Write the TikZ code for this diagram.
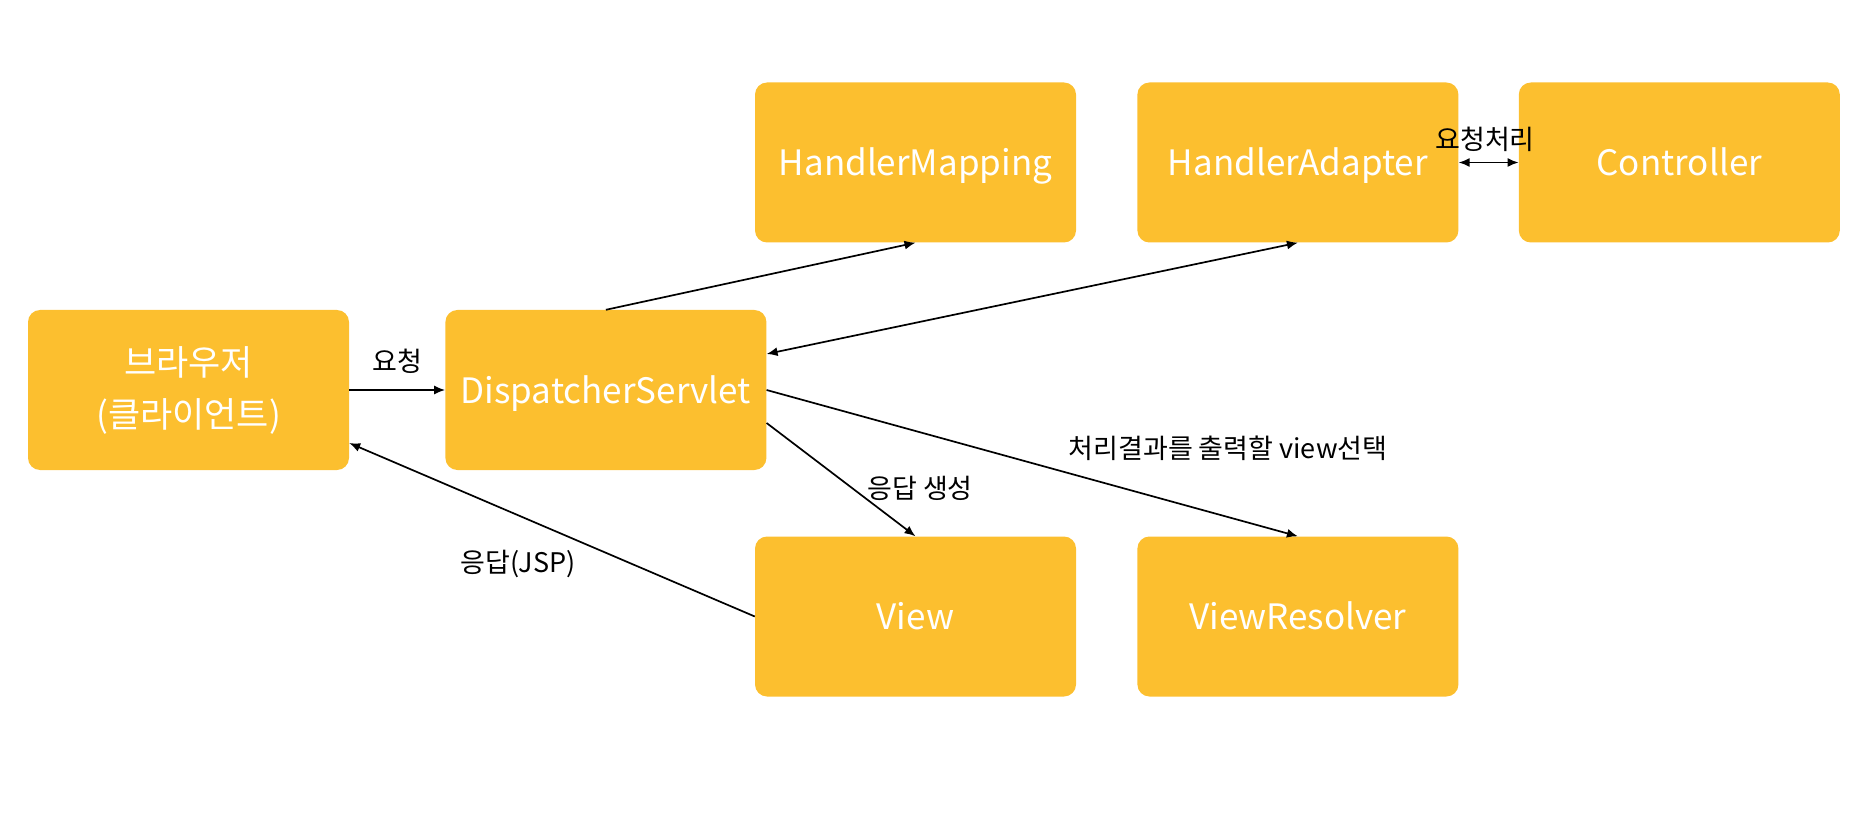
\documentclass[tikz,border=0pt]{standalone}
\usepackage{fontspec}
\setmainfont{Noto Sans CJK KR}
\usepackage{xcolor}
\usepackage{tikz}
\usetikzlibrary{arrows.meta,positioning}
\definecolor{DeepYellow}{HTML}{FCBF2F}
\definecolor{InkBlack}{HTML}{000000}
\tikzset{
  box/.style={fill=DeepYellow,draw=none,rounded corners=12pt,align=center,
              minimum width=321pt,minimum height=160pt,inner sep=0pt,
              text=white,font=\fontsize{35}{52}\selectfont},
  onebox/.style={box,text height=30pt,text depth=4pt},
  flow/.style={-{Latex[length=11pt,width=9pt]},line width=1.7pt,draw=InkBlack},
  backflow/.style={{Latex[length=11pt,width=9pt]}-{Latex[length=11pt,width=9pt]},line width=1.7pt,draw=InkBlack},
  note/.style={font=\fontsize{27}{29}\selectfont,text=InkBlack,inner sep=0pt}
}
\begin{document}
\begin{tikzpicture}[x=1pt,y=-1pt]
  \useasboundingbox (0,0) rectangle (1858,826);
  \node[box] (browser) at (188.5,390) {브라우저\\(클라이언트)};
  \node[onebox,right=96pt of browser] (dispatcher) {DispatcherServlet};
  \node[onebox] (mapping) at (915.5,162.5) {HandlerMapping};
  \node[onebox,right=61pt of mapping] (adapter) {HandlerAdapter};
  \node[onebox,right=60pt of adapter] (controller) {Controller};
  \node[onebox] (view) at (915.5,616.5) {View};
  \node[onebox,right=61pt of view] (resolver) {ViewResolver};

  \draw[flow] (browser.east) -- (dispatcher.west);
  \draw[flow] (dispatcher.north) -- (mapping.south);
  \draw[backflow] ([yshift=36pt]dispatcher.east) -- (adapter.south);
  \draw[backflow] (adapter.east) -- (controller.west);
  \draw[flow] (dispatcher.east) -- (resolver.north);
  \draw[flow] ([yshift=-33pt]dispatcher.east) -- (view.north);
  \draw[flow] (view.west) -- ([yshift=-53pt]browser.east);

  \node[note] (request) at (397,361) {요청};
  \node[note] (handle) at (1485,139) {요청처리};
  \node[note] (select) at (1228,448) {처리결과를 출력할 view선택};
  \node[note] (make) at (920,488) {응답 생성};
  \node[note] (answer) at (518,564) {응답(JSP)};
\end{tikzpicture}
\end{document}
